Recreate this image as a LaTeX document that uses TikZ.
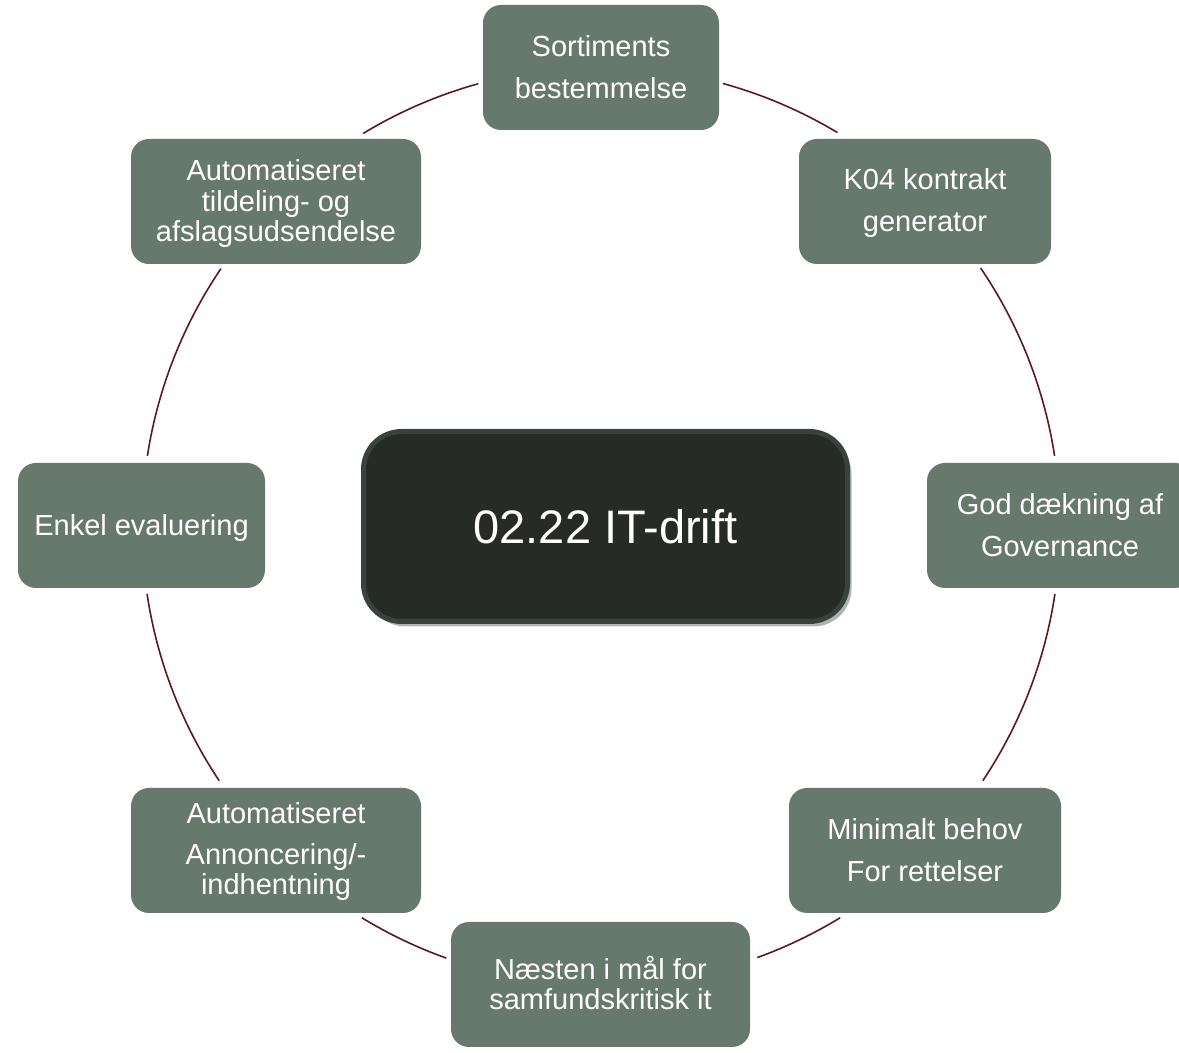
\documentclass[tikz,border=0pt]{standalone}
\usepackage{fontspec}
\setmainfont{Liberation Sans}
\usetikzlibrary{shadows}
\definecolor{boxfill}{HTML}{66796C}
\definecolor{hubfill}{HTML}{262B27}
\definecolor{hubline}{HTML}{39433D}
\definecolor{arccol}{HTML}{5C1A1E}
\newcommand{\mvtxt}[2]{\raisebox{#1}[\height][\depth]{#2}}
\begin{document}
\begin{tikzpicture}[x=1pt,y=1pt,
  item/.style={fill=boxfill, rounded corners=18pt, minimum height=125pt,
    text=white, align=center, inner sep=0pt,
    font=\fontsize{29}{30}\selectfont},
  hub/.style={fill=hubfill, draw=hubline, line width=5pt, rounded corners=38pt,
    minimum width=484pt, minimum height=190pt, text=white,
    font=\fontsize{47}{56}\selectfont,
    drop shadow={shadow xshift=4pt, shadow yshift=-5pt, opacity=0.3, fill=black}},
  ring/.style={draw=arccol, line width=1.6pt}]
\useasboundingbox (0,0) rectangle (1179,1053);
\fill[white] (0,0) rectangle (1179,1053);
\coordinate (c) at (601,527);
% ring segments
\foreach \a/\b in {74.6/59.0, 34.2/8.8, -8.5/-33.7, -58.6/-70.1,
                   -109.7/-121.4, -146.3/-171.5, 171.2/145.9, 121.2/105.5}
  \draw[ring] ([shift={(\a:459)}]c) arc[start angle=\a, end angle=\b, radius=459];
% items
\node[item, minimum width=236pt] (sort) at (601,985.5) {Sortiments\\[12pt]bestemmelse};
\node[item, minimum width=252pt] (k04) at (925,851.5) {\mvtxt{-2pt}{K04 kontrakt}\\[12pt]\mvtxt{-2pt}{generator}};
\node[item, minimum width=266pt] (god) at (1060,527.5) {God dækning af\\[12pt]Governance};
\node[item, minimum width=272pt] (min) at (925,202.5) {Minimalt behov\\[12pt]For rettelser};
\node[item, minimum width=299pt] (naes) at (600.5,68.5) {\mvtxt{2pt}{Næsten i mål for}\\\mvtxt{2pt}{samfundskritisk it}};
\node[item, minimum width=290pt] (ann) at (276,202.5) {\mvtxt{-2pt}{Automatiseret}\\[13pt]Annoncering/-\\indhentning};
\node[item, minimum width=247pt] (enk) at (141.5,527.5) {\mvtxt{-3pt}{Enkel evaluering}};
\node[item, minimum width=290pt] (til) at (276,851.5) {\mvtxt{-2pt}{Automatiseret}\\[1pt]\mvtxt{-2pt}{tildeling- og}\\\mvtxt{-2pt}{afslagsudsendelse}};
% hub
\node[hub] (hub) at (605.5,526.5) {02.22 IT-drift};
\end{tikzpicture}
\end{document}
